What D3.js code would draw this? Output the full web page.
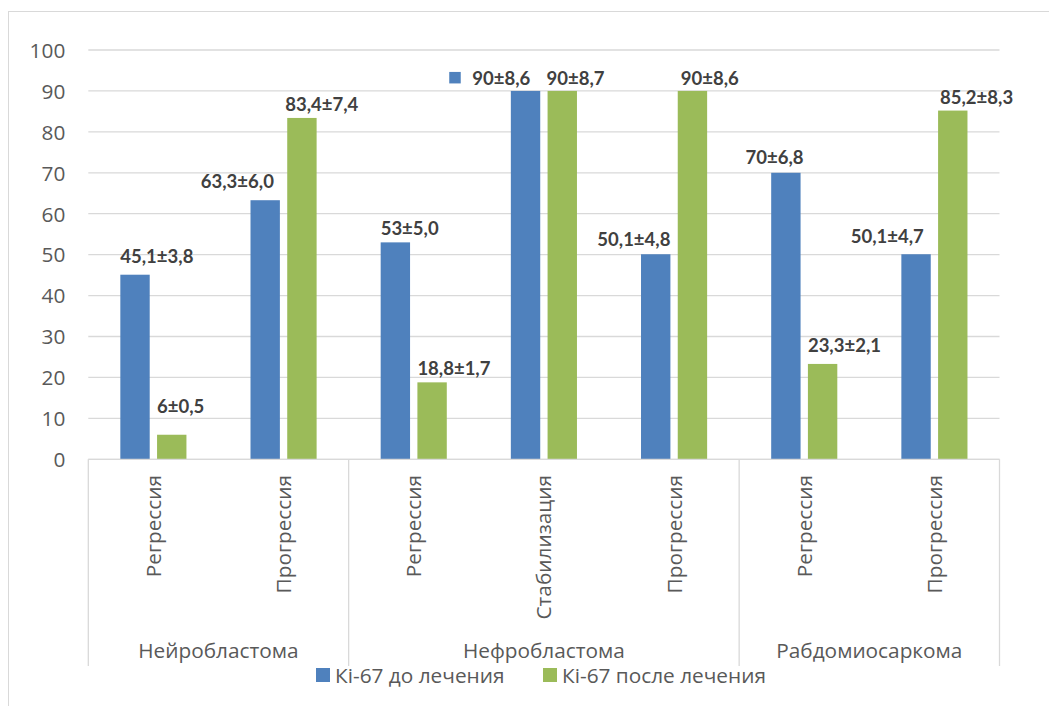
<!DOCTYPE html>
<html><head><meta charset="utf-8">
<script src="https://cdn.jsdelivr.net/npm/d3@7"></script>
<style>body{margin:0;background:#fff}svg{display:block}</style>
</head><body>
<svg id="chart" width="1049" height="706"></svg>
<script>
// ---- data ----
const categories = ["Регрессия","Прогрессия","Регрессия","Стабилизация","Прогрессия","Регрессия","Прогрессия"];
const groups = ["Нейробластома","Нефробластома","Рабдомиосаркома"];
const groupSizes = [2,3,2];
const seriesNames = ["Кі-67 до лечения","Кі-67 после лечения"];
const before = [45.1,63.3,53,90,50.1,70,50.1];
const after = [6,83.4,18.8,90,90,23.3,85.2];
const beforeErr = ["3,8","6,0","5,0","8,6","4,8","6,8","4,7"];
const afterErr = ["0,5","7,4","1,7","8,7","8,6","2,1","8,3"];
const yTicks = [0,10,20,30,40,50,60,70,80,90,100];

// ---- label layout (manual nudges as in the original) ----
const beforeAnchor = ["start","end","start","end","end","end","end"];
const beforeDx = [0,-6,0,-10,0,3,-7];
const beforeDy = [-12,-12,-7,-6,-8,-9,-11];
const beforeKey = [0,0,0,1,0,0,0];
const afterAnchor = ["start","start","start","start","start","start","start"];
const afterDx = [0,-2,0,-1,3,0,2];
const afterDy = [-22,-7,-7,-6,-6,-12,-7];

const colors = ["#4f81bd","#9bbb59"];
const svg = d3.select("#chart");

// outer border
svg.append("rect").attr("x",8.5).attr("y",11.5).attr("width",1100).attr("height",800)
  .attr("fill","none").attr("stroke","#d9d9d9").attr("stroke-width",1);

const x0 = 88.3, x1 = 999.5, yTop = 50, yBot = 459.3;
const x = d3.scaleBand().domain(d3.range(categories.length)).range([x0,x1]).padding(0);
const xs = d3.scaleBand().domain([0,1]).range([0,x.bandwidth()]).paddingInner(0.2).paddingOuter(0.872);
const y = d3.scaleLinear().domain([0,100]).range([yBot,yTop]);

const axFont = "'Open Sans',sans-serif";
const axSize = 20.8;

// gridlines
svg.append("g").selectAll("line").data(yTicks).join("line")
  .attr("x1",x0).attr("x2",x1).attr("y1",d=>y(d)).attr("y2",d=>y(d))
  .attr("stroke","#d9d9d9").attr("stroke-width",1.3);

// y tick labels via axis
const yAxis = svg.append("g").attr("transform",`translate(${x0},0)`)
  .call(d3.axisLeft(y).tickValues(yTicks).tickSize(0).tickPadding(23));
yAxis.select(".domain").remove();
yAxis.selectAll("text").attr("font-family",axFont).attr("font-size",axSize)
  .attr("fill","#595959").attr("dy","0.35em");

// bars
const series = [before, after];
series.forEach((vals,si)=>{
  svg.append("g").selectAll("rect").data(vals).join("rect")
    .attr("x",(d,i)=>x(i)+xs(si)).attr("width",xs.bandwidth())
    .attr("y",d=>y(d)).attr("height",d=>y(0)-y(d))
    .attr("fill",colors[si]);
});

// data labels
const fmt = v => String(v).replace(".",",");
const lblFont = "Lato, 'Open Sans', sans-serif";
function addLabels(vals, errs, si, anchor, dx, dy, key){
  const g = svg.append("g");
  vals.forEach((v,i)=>{
    const bx = x(i)+xs(si);
    const ax = anchor[i]==="start" ? bx : bx + xs.bandwidth();
    const t = g.append("text").attr("x",ax+dx[i]).attr("y",y(v)+dy[i])
      .attr("text-anchor",anchor[i]).attr("font-family",lblFont).attr("font-weight","bold")
      .attr("font-size",18.5).attr("fill","#404040").text(fmt(v)+"±"+errs[i]);
    if(key && key[i]){
      const w = t.node().getComputedTextLength();
      const left = anchor[i]==="start" ? ax+dx[i] : ax+dx[i]-w;
      g.append("rect").attr("x",left-23).attr("y",y(v)+dy[i]-13).attr("width",11.5).attr("height",11.5)
        .attr("fill",colors[si]);
    }
  });
}
addLabels(before, beforeErr, 0, beforeAnchor, beforeDx, beforeDy, beforeKey);
addLabels(after, afterErr, 1, afterAnchor, afterDx, afterDy, null);

// x axis line
svg.append("line").attr("x1",x0).attr("x2",x1).attr("y1",yBot).attr("y2",yBot)
  .attr("stroke","#d9d9d9").attr("stroke-width",1.3);

// category labels (rotated)
svg.append("g").selectAll("text").data(categories).join("text")
  .attr("transform",(d,i)=>`translate(${x(i)+x.bandwidth()/2+7.5},475) rotate(-90)`)
  .attr("text-anchor","end").attr("font-family",axFont).attr("font-size",axSize)
  .attr("fill","#595959").text(d=>d);

// group separators and labels
let acc = 0;
const bounds = [0];
groupSizes.forEach(n=>{acc+=n;bounds.push(acc);});
svg.append("g").selectAll("line").data(bounds).join("line")
  .attr("x1",d=> d<categories.length ? x(d) : x1).attr("x2",d=> d<categories.length ? x(d) : x1)
  .attr("y1",yBot).attr("y2",666).attr("stroke","#d9d9d9").attr("stroke-width",1.3);
svg.append("g").selectAll("text").data(groups).join("text")
  .attr("x",(d,i)=>{const a=x(bounds[i]); const b= bounds[i+1]<categories.length ? x(bounds[i+1]) : x1; return (a+b)/2;})
  .attr("y",658).attr("text-anchor","middle").attr("font-family",axFont).attr("font-size",axSize)
  .attr("fill","#595959").text(d=>d);

// legend
const legX = [316,543];
const lg = svg.append("g");
seriesNames.forEach((n,i)=>{
  lg.append("rect").attr("x",legX[i]).attr("y",668).attr("width",14).attr("height",14).attr("fill",colors[i]);
  lg.append("text").attr("x",legX[i]+19).attr("y",682.5).attr("font-family",axFont).attr("font-size",axSize)
    .attr("fill","#595959").text(n);
});
</script>
</body></html>
